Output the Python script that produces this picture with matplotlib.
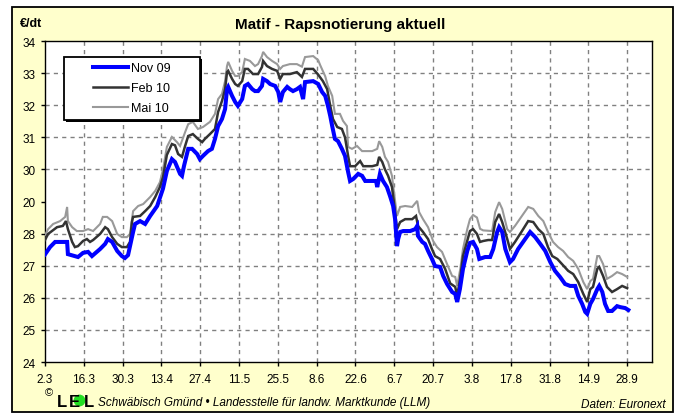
"""Matif rapeseed quotes (Nov 09 / Feb 10 / Mai 10), LEL chart look-alike."""
import matplotlib
matplotlib.use("Agg")
import matplotlib.pyplot as plt
from matplotlib.lines import Line2D
from matplotlib.patches import Rectangle

plt.rcParams.update({
    "font.family": ["Liberation Sans", "DejaVu Sans"],
    "font.size": 8.5,
})

W, H = 675, 414          # output size in pixels
PANEL_BG = "#FFFFCC"
GRID_COLOR = "#808080"
C_NOV = "#0000FF"
C_FEB = "#333333"
C_MAI = "#999999"

# x axis: trading days since 2.3.2009, one tick every 10 trading days
TICK_DAYS = [0, 10, 20, 30, 40, 50, 60, 70, 80, 90, 100, 110, 120, 130, 140, 150]
TICK_LABELS = ["2.3", "16.3", "30.3", "13.4", "27.4", "11.5", "25.5", "8.6",
               "22.6", "6.7", "20.7", "3.8", "17.8", "31.8", "14.9", "28.9"]
X_MAX = 156.4

Y_TICKS = [24, 25, 26, 27, 28, 29, 30, 31, 32, 33, 34]
Y_LABELS = ["24", "25", "26", "27", "28", "20", "30", "31", "32", "33", "34"]
Y_GRID = [25, 26, 27, 28, 30, 31, 32, 33]   # no line drawn at 29 in the original

NOV09_DAY = [
    0.0, 1.3, 2.6, 5.7, 5.9, 8.5, 9.8, 11.1, 12.1, 14.2,
    15.5, 16.2, 17.3, 18.6, 19.8, 20.6, 21.4, 22.7, 23.2, 24.5,
    25.8, 27.1, 28.9, 30.4, 31.4, 32.7, 33.5, 34.8, 35.3, 35.8,
    36.9, 37.9, 39.2, 39.9, 40.7, 42.0, 43.0, 43.8, 44.6, 45.6,
    46.4, 46.9, 47.2, 48.2, 49.0, 49.7, 50.8, 51.5, 52.3, 53.4,
    54.1, 54.9, 55.9, 56.2, 57.2, 58.0, 59.3, 60.1, 60.6, 61.3,
    62.4, 63.1, 63.9, 64.9, 65.7, 66.5, 67.0, 69.1, 70.4, 71.4,
    72.2, 72.9, 73.5, 74.0, 74.7, 75.5, 76.5, 77.3, 78.1, 78.6,
    79.4, 80.7, 81.7, 82.5, 85.3, 85.6, 86.3, 87.1, 88.1, 88.9,
    89.7, 90.2, 90.7, 91.0, 91.5, 92.3, 94.1, 95.4, 95.9, 96.1,
    97.2, 97.9, 98.7, 99.7, 100.5, 101.8, 102.6, 103.6, 104.9, 105.7,
    106.2, 106.9, 107.7, 108.8, 109.5, 110.3, 111.3, 111.9, 113.4, 114.7,
    115.5, 116.5, 117.0, 117.8, 118.6, 119.8, 120.6, 121.9, 123.7, 125.0,
    126.3, 127.6, 128.9, 130.2, 131.4, 132.7, 134.0, 135.3, 136.6, 137.4,
    138.4, 139.2, 139.7, 140.5, 141.2, 142.3, 142.8, 143.6, 144.3, 145.1,
    146.1, 147.4, 148.2, 149.5, 150.3,
]
NOV09_EUR = [
    27.35, 27.58, 27.74, 27.74, 27.36, 27.27, 27.40, 27.43, 27.30, 27.52,
    27.68, 27.83, 27.74, 27.46, 27.30, 27.24, 27.33, 28.05, 28.30, 28.39,
    28.30, 28.55, 28.86, 29.40, 29.95, 30.32, 30.23, 29.86, 29.80, 30.10,
    30.64, 30.64, 30.48, 30.32, 30.42, 30.57, 30.64, 30.95, 31.35, 31.57,
    31.88, 32.50, 32.57, 32.29, 32.10, 31.98, 32.19, 32.60, 32.66, 32.50,
    32.44, 32.44, 32.60, 32.82, 32.75, 32.66, 32.60, 32.41, 32.10, 32.41,
    32.57, 32.50, 32.44, 32.50, 32.57, 32.19, 32.72, 32.75, 32.66, 32.41,
    32.29, 31.98, 31.66, 31.35, 30.95, 30.88, 30.64, 30.42, 29.92, 29.64,
    29.70, 29.86, 29.80, 29.64, 29.64, 29.45, 29.86, 29.64, 29.45, 29.17,
    28.86, 28.45, 27.61, 27.83, 28.05, 28.08, 28.08, 28.14, 28.24, 27.93,
    27.74, 27.68, 27.46, 27.21, 26.99, 26.96, 26.68, 26.43, 26.18, 26.12,
    25.87, 26.27, 26.90, 27.46, 27.71, 27.74, 27.52, 27.21, 27.27, 27.27,
    27.52, 28.05, 28.20, 28.05, 27.52, 27.11, 27.21, 27.52, 27.83, 28.05,
    27.89, 27.68, 27.46, 27.11, 26.84, 26.65, 26.43, 26.37, 26.37, 26.06,
    25.81, 25.56, 25.50, 25.81, 25.96, 26.27, 26.37, 26.18, 25.81, 25.59,
    25.59, 25.74, 25.71, 25.68, 25.62,
]

FEB10_DAY = [
    0.0, 0.8, 1.8, 3.1, 4.6, 5.4, 5.9, 7.0, 7.7, 8.5,
    9.8, 10.8, 11.6, 12.4, 14.2, 15.5, 16.2, 17.3, 18.6, 19.8,
    21.1, 21.9, 22.4, 22.7, 24.5, 25.8, 27.1, 28.4, 29.6, 30.4,
    31.4, 32.7, 33.5, 34.3, 35.3, 36.1, 36.9, 38.1, 39.4, 40.5,
    41.2, 42.5, 43.8, 44.6, 45.6, 46.4, 46.9, 47.2, 48.2, 49.0,
    49.7, 50.8, 51.5, 52.3, 53.6, 54.9, 55.9, 56.2, 57.2, 58.5,
    59.8, 60.6, 61.3, 63.1, 64.9, 66.2, 67.0, 69.1, 70.4, 71.6,
    72.7, 73.5, 74.2, 75.3, 76.5, 77.3, 78.1, 78.6, 79.9, 81.2,
    82.0, 84.3, 85.6, 86.1, 86.9, 87.6, 88.4, 89.4, 89.9, 90.7,
    91.5, 92.8, 94.6, 95.6, 96.1, 97.4, 98.7, 99.7, 100.5, 101.8,
    103.1, 104.4, 105.7, 106.2, 107.0, 107.7, 108.8, 109.5, 110.3, 111.3,
    112.1, 112.9, 114.2, 115.2, 116.0, 117.0, 117.8, 119.1, 119.8, 121.1,
    122.9, 124.5, 125.8, 127.1, 128.4, 129.6, 130.7, 132.0, 133.2, 134.8,
    136.1, 137.4, 138.7, 139.7, 140.5, 141.2, 142.3, 142.8, 143.8, 144.8,
    146.1, 147.4, 148.7, 150.0,
]
FEB10_EUR = [
    27.80, 27.99, 28.08, 28.20, 28.24, 28.39, 28.14, 27.74, 27.58, 27.61,
    27.77, 27.83, 27.74, 27.80, 27.99, 28.20, 28.14, 27.89, 27.68, 27.58,
    27.58, 27.74, 28.36, 28.52, 28.55, 28.70, 28.86, 29.14, 29.45, 29.75,
    30.45, 30.79, 30.75, 30.48, 30.39, 30.73, 31.04, 31.10, 30.95, 30.85,
    30.95, 31.10, 31.26, 31.79, 32.13, 32.50, 33.03, 33.07, 32.82, 32.66,
    32.60, 32.75, 33.13, 33.13, 32.97, 32.97, 33.19, 33.38, 33.22, 33.13,
    33.07, 32.82, 32.97, 32.97, 33.03, 32.88, 33.13, 33.13, 32.95, 32.75,
    32.50, 31.98, 31.57, 31.32, 31.26, 31.00, 30.42, 30.10, 30.10, 30.26,
    30.10, 30.10, 30.14, 30.39, 30.23, 30.00, 29.80, 29.45, 28.98, 28.14,
    28.36, 28.45, 28.45, 28.55, 28.24, 28.05, 27.83, 27.52, 27.30, 27.21,
    26.90, 26.45, 26.34, 26.06, 26.62, 27.30, 27.78, 28.08, 28.14, 27.99,
    27.74, 27.77, 27.80, 27.80, 28.36, 28.61, 28.36, 27.83, 27.52, 27.74,
    28.08, 28.39, 28.36, 28.14, 27.99, 27.58, 27.30, 27.21, 27.05, 26.84,
    26.74, 26.49, 26.12, 25.87, 26.27, 26.34, 26.90, 26.96, 26.68, 26.34,
    26.18, 26.27, 26.37, 26.30,
]

MAI10_DAY = [
    0.0, 0.8, 2.1, 3.9, 5.2, 5.7, 5.9, 7.0, 8.2, 9.8,
    11.1, 12.4, 14.2, 14.9, 16.0, 17.3, 18.6, 19.8, 21.1, 21.9,
    22.7, 24.0, 25.3, 27.1, 28.4, 29.6, 30.4, 31.4, 32.7, 34.0,
    34.8, 36.1, 36.9, 38.1, 39.4, 40.7, 42.5, 43.8, 44.6, 45.6,
    46.4, 46.9, 47.2, 48.2, 49.0, 49.7, 50.8, 51.5, 52.8, 54.1,
    54.9, 55.9, 56.2, 57.2, 58.5, 59.8, 60.6, 61.3, 63.1, 64.9,
    66.2, 67.0, 69.1, 70.4, 70.9, 72.2, 72.9, 74.0, 74.7, 76.0,
    76.8, 77.8, 78.1, 79.1, 80.4, 81.7, 84.3, 85.6, 86.1, 86.9,
    87.6, 88.4, 89.4, 89.9, 90.7, 91.5, 92.8, 94.6, 95.9, 96.4,
    97.4, 98.7, 100.0, 101.0, 102.3, 103.6, 104.9, 105.7, 106.2, 107.0,
    107.7, 108.8, 109.5, 110.3, 111.3, 112.1, 112.9, 115.2, 116.0, 117.0,
    117.8, 119.1, 119.8, 121.1, 122.9, 124.5, 125.8, 127.1, 128.4, 129.6,
    130.9, 132.2, 133.5, 134.8, 136.1, 137.4, 138.7, 139.7, 140.5, 141.2,
    142.3, 142.8, 143.8, 144.8, 146.1, 147.4, 148.7, 150.0,
]
MAI10_EUR = [
    27.95, 28.14, 28.30, 28.39, 28.52, 28.83, 28.39, 28.20, 28.08, 28.08,
    28.14, 28.08, 28.30, 28.52, 28.52, 28.39, 27.99, 27.89, 27.89, 27.99,
    28.70, 28.86, 28.92, 29.14, 29.33, 29.60, 30.00, 30.70, 31.01, 30.85,
    30.73, 31.16, 31.41, 31.48, 31.26, 31.32, 31.48, 31.73, 32.19, 32.35,
    32.75, 33.22, 33.35, 33.07, 32.91, 32.91, 33.03, 33.44, 33.38, 33.22,
    33.28, 33.53, 33.66, 33.50, 33.38, 33.28, 33.13, 33.22, 33.28, 33.28,
    33.20, 33.50, 33.53, 33.40, 33.25, 32.90, 32.60, 32.29, 31.73, 31.73,
    31.51, 31.35, 30.70, 30.64, 30.73, 30.57, 30.57, 30.64, 30.88, 30.70,
    30.39, 30.23, 29.80, 29.30, 28.55, 28.83, 28.86, 28.83, 29.02, 28.67,
    28.45, 28.20, 27.77, 27.58, 27.43, 27.05, 26.68, 26.65, 26.37, 26.90,
    27.52, 28.14, 28.45, 28.58, 28.50, 28.15, 28.10, 28.08, 28.67, 28.98,
    28.77, 28.14, 28.05, 28.24, 28.55, 28.83, 28.77, 28.55, 28.39, 28.05,
    27.74, 27.58, 27.46, 27.27, 27.15, 26.90, 26.49, 26.27, 26.52, 26.59,
    27.30, 27.30, 27.05, 26.59, 26.68, 26.80, 26.74, 26.65,
]

SERIES = [
    # drawn back to front, legend listed front to back
    ("Mai 10", MAI10_DAY, MAI10_EUR, C_MAI, 1.5),
    ("Feb 10", FEB10_DAY, FEB10_EUR, C_FEB, 1.8),
    ("Nov 09", NOV09_DAY, NOV09_EUR, C_NOV, 2.9),
]


def fx(px):
    return px / W


def fy(py):
    return 1 - py / H


def main():
    fig = plt.figure(figsize=(W / 100, H / 100), dpi=100)
    fig.patch.set_facecolor("white")

    # yellow outer panel with black frame
    fig.add_artist(Rectangle((fx(12), fy(413)), fx(661), 405 / H,
                             transform=fig.transFigure, facecolor=PANEL_BG,
                             edgecolor="black", lw=1.3, zorder=0))

    ax = fig.add_axes([fx(45), fy(363), fx(607), 321 / H])
    ax.set_facecolor("white")

    for v in Y_GRID:
        ax.axhline(v, color=GRID_COLOR, lw=1.0, dashes=(3, 3), zorder=1)
    for d in TICK_DAYS[1:]:
        ax.axvline(d, color=GRID_COLOR, lw=1.0, dashes=(3, 3), zorder=1)

    handles = {}
    for label, days, eur, color, lw in SERIES:
        assert len(days) == len(eur), label
        (ln,) = ax.plot(days, eur, color=color, lw=lw, zorder=3,
                        solid_joinstyle="miter")
        handles[label] = ln

    ax.set_xlim(0, X_MAX)
    ax.set_ylim(24, 34)
    ax.set_xticks(TICK_DAYS)
    ax.set_xticklabels(TICK_LABELS)
    ax.set_yticks(Y_TICKS)
    ax.set_yticklabels(Y_LABELS)
    ax.tick_params(direction="out", length=3, width=1, color="black",
                   labelsize=8.5, pad=4)
    ax.tick_params(axis="x", pad=5)
    for s in ax.spines.values():
        s.set_color("black")
        s.set_linewidth(1.0)

    # legend box: drawn by hand so the wide side padding matches
    fig.add_artist(Rectangle((fx(66), fy(123)), fx(136), 63 / H,
                             transform=fig.transFigure, facecolor="black",
                             edgecolor="none", zorder=4))
    fig.add_artist(Rectangle((fx(64), fy(121)), fx(136), 63 / H,
                             transform=fig.transFigure, facecolor="white",
                             edgecolor="black", lw=1.3, zorder=5))
    order = ["Nov 09", "Feb 10", "Mai 10"]
    leg = fig.legend([handles[k] for k in order], order,
                     loc="upper left", bbox_to_anchor=(fx(93), fy(63)),
                     frameon=False, fontsize=9, borderpad=0, borderaxespad=0,
                     handlelength=2.8, handletextpad=0.25, labelspacing=0.64)
    leg.set_zorder(6)

    fig.text(fx(340), fy(25), "Matif - Rapsnotierung aktuell", ha="center",
             va="center", fontsize=11, fontweight="bold")
    fig.text(fx(20), fy(24), "€/dt", ha="left", va="center", fontsize=9,
             fontweight="bold")

    # LEL logo + footer
    fig.text(fx(45), fy(393), "©", ha="left", va="center", fontsize=8)
    fig.add_artist(Line2D([fx(79)], [fy(401)], transform=fig.transFigure,
                          marker="o", ms=8.5, mfc="#22DD22", mec="none",
                          ls="none", zorder=2))
    fig.text(fx(57), fy(407), "L", ha="left", va="baseline", fontsize=12,
             fontweight="bold", zorder=3)
    fig.text(fx(69), fy(407), "E", ha="left", va="baseline", fontsize=12,
             fontweight="bold", zorder=3)
    fig.text(fx(84), fy(407), "L", ha="left", va="baseline", fontsize=12,
             fontweight="bold", zorder=3)
    fig.text(fx(98), fy(403), "Schwäbisch Gmünd • Landesstelle für landw. Marktkunde (LLM)",
             ha="left", va="center", fontsize=8.5, style="italic")
    fig.text(fx(666), fy(405), "Daten: Euronext", ha="right", va="center",
             fontsize=8.5, style="italic")

    fig.savefig("out.png", dpi=100)
    plt.close(fig)


if __name__ == "__main__":
    main()
